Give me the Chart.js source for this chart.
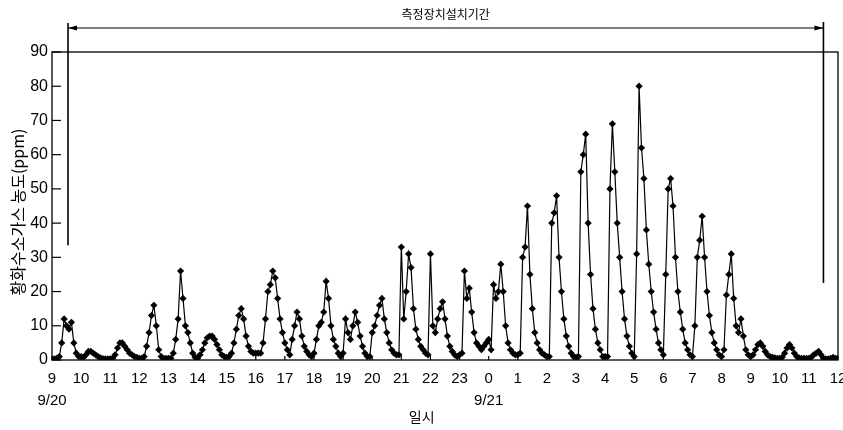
<!DOCTYPE html>
<html>
<head>
<meta charset="utf-8">
<script src="https://cdn.jsdelivr.net/npm/chart.js@4.4.0/dist/chart.umd.min.js"></script>
<style>
  html, body { margin: 0; padding: 0; background: #fff; }
  #wrap { width: 843px; height: 430px; }
</style>
</head>
<body>
<div id="wrap"><canvas id="h2sChart" width="843" height="430"></canvas></div>
<script>
// 측정 간격 (분)
const stepMinutes = 5;

// x축 시각 라벨: 9/20 09시 ~ 9/21 12시
const hourLabels = ['9', '10', '11', '12', '13', '14', '15', '16', '17', '18', '19', '20', '21', '22', '23',
                    '0', '1', '2', '3', '4', '5', '6', '7', '8', '9', '10', '11', '12'];
const dateLabels = { 0: '9/20', 15: '9/21' };
const yTickValues = [0, 10, 20, 30, 40, 50, 60, 70, 80, 90];

// 황화수소 농도 (ppm), 9/20 09:00 ~ 23:55, 5분 간격 (한 줄 = 1시간)
const h2sDay1 = [
    0.3, 0.3, 0.5, 1, 5, 12, 10, 9, 11, 5, 2, 1,
    1, 0.8, 1.5, 2.5, 2.5, 2, 1.5, 1, 0.6, 0.4, 0.3, 0.3,
    0.3, 0.5, 1.5, 3.5, 5, 5, 4, 3, 2, 1.5, 1, 0.8,
    0.5, 0.5, 1, 4, 8, 13, 16, 10, 3, 1, 0.5, 0.5,
    0.5, 0.5, 2, 6, 12, 26, 18, 10, 8, 5, 2, 0.8,
    0.5, 1.5, 3, 5, 6.5, 7, 7, 6, 4.5, 3, 1.5, 1,
    0.8, 1, 2, 5, 9, 13, 15, 12, 7, 4, 2.5, 2,
    2, 2, 2, 5, 12, 20, 22, 26, 24, 18, 12, 8,
    5, 3, 1.5, 6, 10, 14, 12, 7, 4, 2.5, 1.5, 1,
    2, 6, 10, 11, 14, 23, 18, 10, 6, 4, 2, 1,
    2, 12, 8, 6, 10, 14, 11, 7, 4, 2, 1, 1,
    8, 10, 13, 16, 18, 12, 8, 5, 3, 2, 1.5, 1.5,
    33, 12, 20, 31, 27, 15, 9, 6, 4, 3, 2, 1.5,
    31, 10, 8, 12, 15, 17, 12, 7, 4, 2.5, 1.5, 1,
    1.5, 2, 26, 18, 21, 14, 8, 5, 4, 3, 4, 5
];

// 황화수소 농도 (ppm), 9/21 00:00 ~ 12:00, 5분 간격 (한 줄 = 1시간)
const h2sDay2 = [
    6, 3, 22, 18, 20, 28, 20, 10, 5, 3, 2, 1.5,
    1.5, 2, 30, 33, 45, 25, 15, 8, 5, 3, 2, 1.5,
    1, 1, 40, 43, 48, 30, 20, 12, 7, 4, 2, 1,
    0.8, 1, 55, 60, 66, 40, 25, 15, 9, 5, 3, 1,
    1, 1, 50, 69, 55, 40, 30, 20, 12, 7, 4, 2,
    1, 31, 80, 62, 53, 38, 28, 20, 14, 9, 5, 3,
    1.5, 25, 50, 53, 45, 30, 20, 14, 9, 5, 3, 1.5,
    1, 10, 30, 35, 42, 30, 20, 13, 8, 5, 3, 1.5,
    1, 3, 19, 25, 31, 18, 10, 8, 12, 7, 3, 1.5,
    1, 1.5, 3, 4.5, 5, 4, 2.5, 1.5, 1, 0.8, 0.6, 0.5,
    0.5, 0.8, 2, 3.5, 4.5, 3.5, 2, 1, 0.6, 0.5, 0.5, 0.5,
    0.5, 0.8, 1.5, 2, 2.5, 1.5, 0.5, 0.3, 0.3, 0.5, 0.8, 0.5,
    0.5
];

// 측정장치 설치기간 (9/20 09시 기준 경과시간) 및 표시선 하단 농도
const installStart = 0.55;
const installEnd = 26.5;
const installStartLow = 33.5;
const installEndLow = 22.5;

const fontLatin = "'Liberation Sans', 'Noto Sans CJK KR', sans-serif";
const fontKorean = "'Noto Sans CJK KR', sans-serif";
const ink = '#000';

const points = h2sDay1.concat(h2sDay2).map((v, i) => ({ x: i * stepMinutes / 60, y: v }));

// 테두리, 안쪽 눈금, 설치기간 화살표, 축 제목
const frameAndNotes = {
    id: 'frameAndNotes',
    afterDraw(chart) {
        const { ctx, chartArea: a, scales: { x, y } } = chart;
        const line = (x1, y1, x2, y2) => {
            ctx.beginPath();
            ctx.moveTo(x1, y1);
            ctx.lineTo(x2, y2);
            ctx.stroke();
        };
        ctx.save();
        ctx.strokeStyle = ink;
        ctx.fillStyle = ink;
        ctx.lineWidth = 1.3;
        ctx.strokeRect(a.left, a.top, a.right - a.left, a.bottom - a.top);

        ctx.lineWidth = 1.2;
        yTickValues.forEach(v => {
            const py = y.getPixelForValue(v);
            line(a.left, py, a.left + 9, py);
        });
        hourLabels.forEach((_, i) => {
            const px = x.getPixelForValue(i);
            line(px, a.bottom, px, a.bottom - 4);
        });

        // 설치기간 표시
        const sx = x.getPixelForValue(installStart);
        const ex = x.getPixelForValue(installEnd);
        const arrowY = a.top - 24;
        ctx.lineWidth = 1.6;
        line(sx, arrowY - 5, sx, y.getPixelForValue(installStartLow));
        line(ex, arrowY - 6, ex, y.getPixelForValue(installEndLow));
        ctx.lineWidth = 1;
        line(sx, arrowY, ex, arrowY);
        ctx.beginPath();
        ctx.moveTo(sx, arrowY);
        ctx.lineTo(sx + 9, arrowY - 2.5);
        ctx.lineTo(sx + 9, arrowY + 2.5);
        ctx.closePath();
        ctx.fill();
        ctx.beginPath();
        ctx.moveTo(ex, arrowY);
        ctx.lineTo(ex - 9, arrowY - 2.5);
        ctx.lineTo(ex - 9, arrowY + 2.5);
        ctx.closePath();
        ctx.fill();

        ctx.textAlign = 'center';
        ctx.textBaseline = 'middle';
        ctx.font = '12px ' + fontKorean;
        ctx.fillText('측정장치설치기간', (sx + ex) / 2, 14);

        // 축 제목
        ctx.font = '14px ' + fontKorean;
        ctx.fillText('일시', x.getPixelForValue(12.7), 417);

        ctx.translate(18, 212);
        ctx.rotate(-Math.PI / 2);
        ctx.font = '16px ' + fontKorean;
        ctx.fillText('황화수소가스 농도(ppm)', 0, 0);
        ctx.restore();
    }
};

new Chart(document.getElementById('h2sChart'), {
    type: 'line',
    data: {
        datasets: [{
            label: '황화수소가스 농도',
            data: points,
            borderColor: '#000',
            borderWidth: 1.2,
            pointStyle: 'rectRot',
            pointRadius: 3.6,
            pointBackgroundColor: '#000',
            pointBorderWidth: 0,
            tension: 0
        }]
    },
    options: {
        responsive: false,
        animation: false,
        devicePixelRatio: 1,
        layout: { padding: { top: 52, right: 5, left: 0, bottom: 0 } },
        plugins: {
            legend: { display: false },
            tooltip: { enabled: false }
        },
        scales: {
            x: {
                type: 'linear',
                min: 0,
                max: 27,
                grid: { display: false, drawTicks: false },
                border: { display: false },
                ticks: {
                    stepSize: 1,
                    autoSkip: false,
                    maxRotation: 0,
                    padding: 8,
                    color: ink,
                    font: { size: 15, family: fontLatin, lineHeight: 1.45 },
                    callback: (v) => {
                        const label = hourLabels[v];
                        return dateLabels[v] ? [label, dateLabels[v]] : label;
                    }
                },
                afterFit: (s) => {
                    s.height = 70;
                    s.paddingLeft = 0;
                    s.paddingRight = 0;
                }
            },
            y: {
                min: 0,
                max: 90,
                grid: { display: false, drawTicks: false },
                border: { display: false },
                ticks: {
                    stepSize: 10,
                    padding: 4,
                    color: ink,
                    font: { size: 16, family: fontLatin }
                },
                afterFit: (s) => {
                    s.width = 52;
                    s.paddingTop = 0;
                    s.paddingBottom = 0;
                }
            }
        }
    },
    plugins: [frameAndNotes]
});
</script>
</body>
</html>
